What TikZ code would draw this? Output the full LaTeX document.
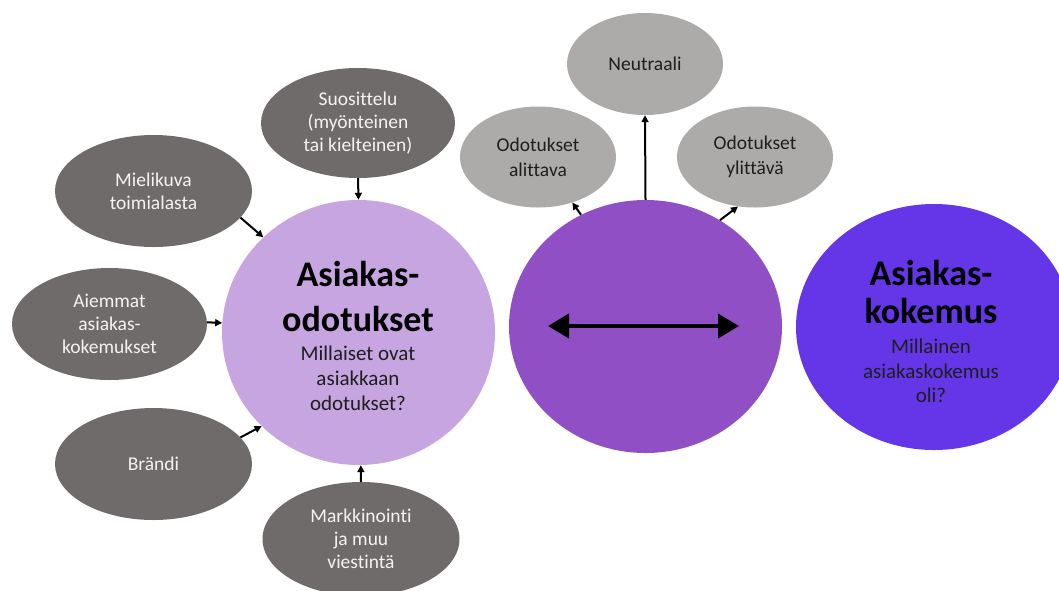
\documentclass[tikz,border=0pt]{standalone}
\usepackage{fontspec}
\setmainfont{Carlito}[Ligatures=NoCommon]
\usetikzlibrary{shapes.geometric,arrows.meta}
\definecolor{darkgray}{HTML}{6F6B6B}
\definecolor{lightgray}{HTML}{ADAAAA}
\definecolor{lightpurple}{HTML}{C6A5E1}
\definecolor{midpurple}{HTML}{914FC6}
\definecolor{bluepurple}{HTML}{6536E8}
\definecolor{lighttext}{HTML}{F4F4F4}
\definecolor{darktext}{HTML}{1E1E1E}
\tikzset{
  darkell/.style={ellipse, fill=darkgray, draw=none, inner sep=0pt, minimum width=197pt, minimum height=112pt,
    text=lighttext, align=center, font=\fontsize{19.5}{23}\selectfont},
  lightell/.style={ellipse, fill=lightgray, draw=none, inner sep=0pt, minimum width=156pt, minimum height=101pt,
    text=darktext, align=center, font=\fontsize{19.5}{25}\selectfont},
  bigcirc/.style={ellipse, draw=none, inner sep=0pt},
  titletext/.style={align=center, text=black, font=\fontsize{36}{45}\bfseries\selectfont},
  subtext/.style={align=center, text=darktext, font=\fontsize{21}{25}\selectfont},
  arr/.style={-{Triangle[length=7pt,width=7pt]}, line width=2pt, black},
  dblarr/.style={{Triangle[length=21pt,width=24pt]}-{Triangle[length=21pt,width=24pt]}, line width=4pt, black}
}
\begin{document}
\begin{tikzpicture}[x=1pt,y=-1pt]
\useasboundingbox (0,0) rectangle (1059,590);
% big circles
\node[bigcirc, fill=lightpurple, minimum width=273pt, minimum height=265pt] (odo) at (358.5,332.5) {};
\node[bigcirc, fill=midpurple, minimum width=273pt, minimum height=253pt] (mid) at (645.5,326.5) {};
\node[bigcirc, fill=bluepurple, minimum width=276pt, minimum height=246pt] (kok) at (934,327) {};
% texts in big circles
\node[titletext] (odotitle) at (358,296) {Asiakas-\\odotukset};
\node[subtext] (ododesc) at (358,378) {Millaiset ovat\\asiakkaan\\odotukset?};
\node[titletext, font=\fontsize{36}{38}\bfseries\selectfont] (koktitle) at (931,292) {Asiakas-\\kokemus};
\node[subtext, font=\fontsize{21}{24.5}\selectfont] (kokdesc) at (931,371) {Millainen\\asiakaskokemus\\oli?};
% dark gray ellipses
\node[darkell, minimum width=194pt, minimum height=110pt] (suos) at (358,123) {Suosittelu\\(myönteinen\\tai kielteinen)};
\node[darkell] (miel) at (153.5,191) {Mielikuva\\toimialasta};
\node[darkell, minimum width=195pt] (aiem) at (109.5,324) {Aiemmat\\asiakas-\\kokemukset};
\node[darkell] (brandi) at (153.5,464) {Brändi};
\node[darkell, minimum height=114pt] (mark) at (361,539) {Markkinointi\\ja muu\\viestintä};
% light gray ellipses
\node[lightell, minimum height=102pt] (neut) at (645,64) {Neutraali};
\node[lightell] (alit) at (538,157) {Odotukset\\alittava};
\node[lightell] (ylit) at (755,157) {Odotukset\\ylittävä};
% arrows into expectations
\draw[arr] (miel.-17) -- (odo.135);
\draw[arr] (suos.south) -- (odo.north);
\draw[arr] (aiem.1) -- (odo.176);
\draw[arr] (brandi.17) -- (odo.224);
\draw[arr] (mark.north) -- (odo.-89);
% arrows out of middle
\draw[arr] (mid.north) -- (neut.south);
\draw[arr] (mid.120) -- (alit.-53);
\draw[arr] (mid.55) -- (ylit.-109);
% double arrow
\coordinate (dl) at (548,326);
\coordinate (dr) at (739,326);
\draw[dblarr] (dl) -- (dr);
\end{tikzpicture}
\end{document}
